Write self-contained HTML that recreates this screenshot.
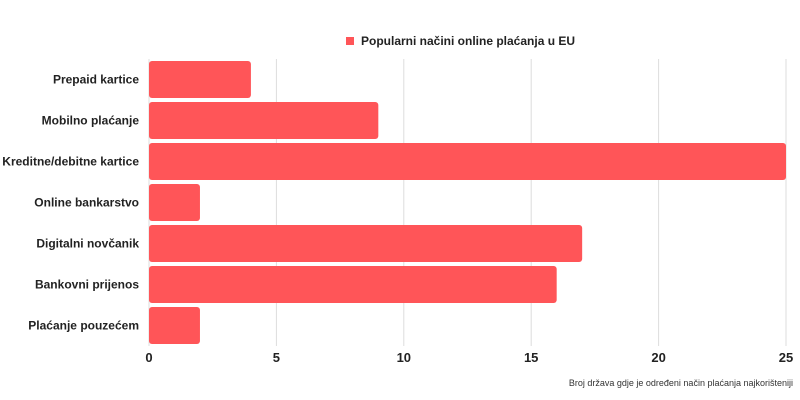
<!DOCTYPE html>
<html><head><meta charset="utf-8"><style>
body{margin:0;background:#fff;}
svg{display:block;font-family:"Liberation Sans",sans-serif;}
</style></head><body>
<svg id="chart" width="800" height="400">
<g id="grid"></g>
<g id="bars"></g>
<g id="ylabels"></g>
<g id="xlabels"></g>
<g>
<rect x="346" y="37" width="8" height="8" fill="#ff5558"/>
<text x="361" y="45" font-size="12" font-weight="bold" fill="#222">Popularni načini online plaćanja u EU</text>
</g>
<text x="793" y="386" font-size="9" text-anchor="end" fill="#333">Broj država gdje je određeni način plaćanja najkorišteniji</text>
</svg>
<script>
const categories=["Prepaid kartice","Mobilno plaćanje","Kreditne/debitne kartice","Online bankarstvo","Digitalni novčanik","Bankovni prijenos","Plaćanje pouzećem"];
const values=[4,9,25,2,17,16,2];
const ticks=[0,5,10,15,20,25];
const NS="http://www.w3.org/2000/svg";
const x0=149,x1=786,yTop=59,band=41,barH=37;
function xs(v){return x0+(v/25)*(x1-x0);}
function ys(i){return yTop+i*band+(band-barH)/2;}
function mk(t,a,p){const e=document.createElementNS(NS,t);for(const k in a)e.setAttribute(k,a[k]);p.appendChild(e);return e;}
const grid=document.getElementById('grid'),bars=document.getElementById('bars'),yl=document.getElementById('ylabels'),xl=document.getElementById('xlabels');
ticks.forEach(t=>{
 const l=mk('line',{x1:xs(t),x2:xs(t),y1:yTop,y2:yTop+band*categories.length,stroke:'#ddd','stroke-width':1},grid);
 
 
 const tx=mk('text',{x:xs(t),y:362,'font-size':13,'font-weight':'bold','text-anchor':'middle',fill:'#222'},xl);
 tx.textContent=t;
 
 
});
categories.forEach((c,i)=>{
 const r=mk('rect',{x:xs(0),y:ys(i),width:xs(values[i])-xs(0),height:barH,rx:3,fill:'#ff5558'},bars);
 
 
 const tx=mk('text',{x:139,y:ys(i)+barH/2+4,'font-size':12,'font-weight':'bold','text-anchor':'end',fill:'#222'},yl);
 tx.textContent=c;
 
 
});
</script>
</body></html>
